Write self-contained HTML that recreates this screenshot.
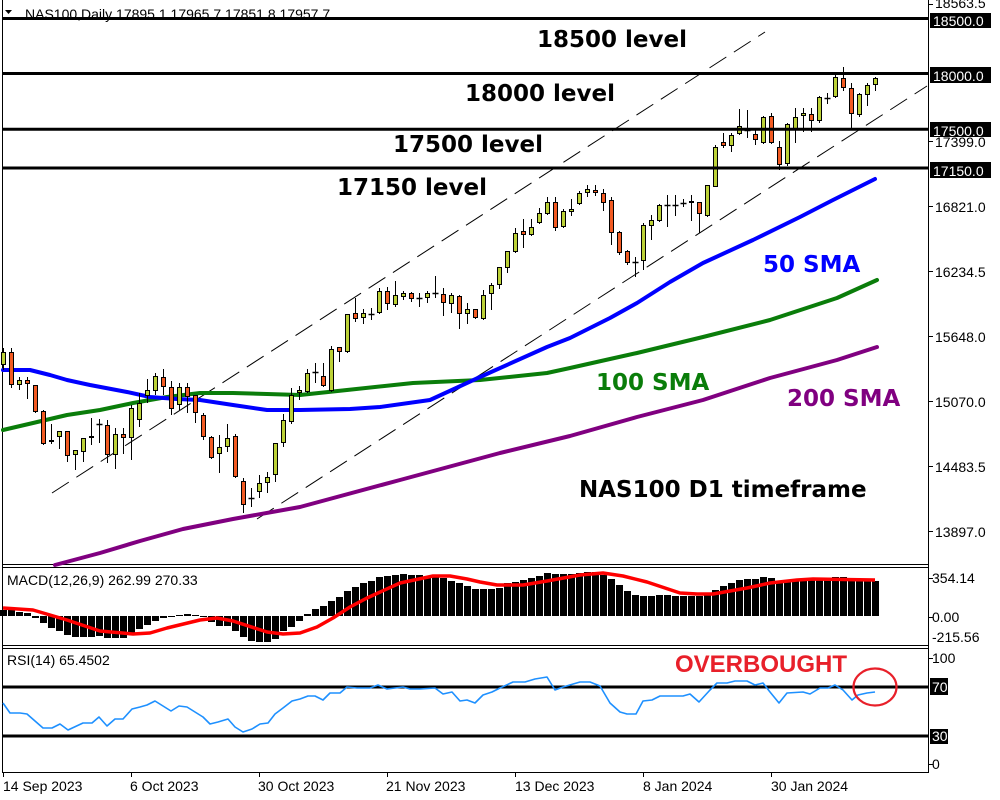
<!DOCTYPE html>
<html><head><meta charset="utf-8"><style>
html,body{margin:0;padding:0;background:#fff;width:1000px;height:800px;overflow:hidden}
svg{display:block}
.ax{font-family:"Liberation Sans",sans-serif;font-size:14px;fill:#000}
.big{font-family:"DejaVu Sans","Liberation Sans",sans-serif;font-weight:bold;font-size:23px}
</style></head><body>
<svg id="s" width="1000" height="800" viewBox="0 0 1000 800" xmlns="http://www.w3.org/2000/svg">
<rect width="1000" height="800" fill="#fff"/>
<!-- header -->
<polygon points="5,10 12,10 8.5,14" fill="#000"/>
<text class="ax" x="25" y="19">NAS100,Daily  17895.1 17965.7 17851.8 17957.7</text>
<!-- frames -->
<g stroke="#000" stroke-width="1" fill="none">
<line x1="2.5" y1="0" x2="2.5" y2="773"/>
<line x1="928.5" y1="0" x2="928.5" y2="773"/>
<line x1="2" y1="564.5" x2="929" y2="564.5"/>
<line x1="2" y1="567.5" x2="929" y2="567.5"/>
<line x1="2" y1="645.5" x2="929" y2="645.5"/>
<line x1="2" y1="648.5" x2="929" y2="648.5"/>
<line x1="2" y1="772.5" x2="929" y2="772.5"/>
</g>
<!-- dashed channel -->
<g stroke="#000" stroke-width="1" stroke-dasharray="20 9" fill="none">
<line x1="52" y1="493" x2="765" y2="32"/>
<line x1="257" y1="519" x2="927" y2="86"/>
</g>
<!-- SMAs -->
<g fill="none" stroke-width="4" stroke-linejoin="round" stroke-linecap="round">
<polyline stroke="#800080" points="55,565 100,553 140,541 183,529 233,519 300,507 400,480 500,453 570,436 637,417 703,400 770,378 837,360 877,347"/>
<polyline stroke="#0a7d0a" points="3,430 33,423 67,415 100,410 133,403 167,397 200,393 233,393 267,394 300,395 347,390 413,383 480,380 547,373 570,368 610,359 637,353 703,337 770,320 837,298 877,280"/>
<polyline stroke="#0000ff" points="3,370 30,370 50,375 67,380 90,385 127,392 150,397 177,399 200,400 233,405 267,410 300,410 350,409 380,407 430,400 480,377 547,347 570,338 610,318 637,303 670,282 703,263 753,240 800,217 833,200 875,179"/>
</g>
<g id="candles"></g>
<g id="hist"></g>
<!-- MACD signal -->
<polyline fill="none" stroke="#ff0000" stroke-width="3.5" stroke-linejoin="round" points="3,608 33,610 67,620 100,631 133,634 150,633 167,628 200,620 217,618 233,621 267,632 283,634 300,633 317,627 333,618 350,607 367,598 400,583 433,576 450,576 467,579 480,582 497,585 523,585 547,581 580,575 603,573 623,576 647,582 680,593 697,594 713,594 747,588 770,583 797,580 813,579 875,580"/>
<!-- RSI -->
<g stroke="#000" stroke-width="3">
<line x1="3" y1="687" x2="928" y2="687"/>
<line x1="3" y1="736" x2="928" y2="736"/>
</g>
<polyline fill="none" stroke="#1e90ff" stroke-width="1.6" stroke-linejoin="round" points="3,703 10,713 20,713 27,714 43,728 52,728 60,724 68,730 83,723 92,723 99,717 107,726 115,719 123,719 132,709 140,707 147,705 155,701 163,706 171,711 179,706 187,707 195,712 203,717 210,724 218,722 228,719 235,727 243,732 252,729 260,724 268,723 275,714 283,708 292,701 300,699 308,696 315,696 323,700 330,693 340,693 347,687 357,688 370,688 378,685 387,689 395,688 403,687 410,689 420,689 435,688 443,694 452,692 460,701 467,700 475,703 483,695 492,692 500,688 513,682 525,682 535,679 547,677 555,690 563,687 580,682 590,682 600,686 610,703 620,712 627,714 636,714 643,701 652,700 660,696 683,696 690,694 699,702 710,690 717,683 727,683 735,681 747,681 755,685 763,683 770,692 779,703 787,693 803,692 810,694 820,688 828,688 835,685 843,690 852,700 858,695 867,693 875,692"/>
<text x="675" y="672" font-family="Liberation Sans, sans-serif" font-weight="bold" font-size="24" fill="#e8202a">OVERBOUGHT</text>
<ellipse cx="875" cy="687" rx="21.5" ry="18.5" fill="none" stroke="#e8202a" stroke-width="2.2"/>
<text class="ax" x="7" y="585">MACD(12,26,9) 262.99 270.33</text>
<text class="ax" x="7" y="665">RSI(14) 65.4502</text>
<!-- level lines -->
<g stroke="#000" stroke-width="3">
<line x1="2" y1="18.5" x2="929" y2="18.5"/>
<line x1="2" y1="73.5" x2="929" y2="73.5"/>
<line x1="2" y1="129.3" x2="929" y2="129.3"/>
<line x1="2" y1="168" x2="929" y2="168"/>
</g>
<!-- big labels -->
<text class="big" x="537" y="47" fill="#000">18500 level</text>
<text class="big" x="465" y="101" fill="#000">18000 level</text>
<text class="big" x="393" y="152" fill="#000">17500 level</text>
<text class="big" x="337" y="195" fill="#000">17150 level</text>
<text class="big" x="763" y="272" fill="#0000ff">50 SMA</text>
<text class="big" x="596" y="390" fill="#0a7d0a">100 SMA</text>
<text class="big" x="787" y="406" fill="#800080">200 SMA</text>
<text class="big" x="579" y="497" fill="#000">NAS100 D1 timeframe</text>
<!-- right axis ticks -->
<g stroke="#000" stroke-width="1">
<line x1="928" y1="4.5" x2="933" y2="4.5"/>
<line x1="928" y1="141.5" x2="933" y2="141.5"/>
<line x1="928" y1="206.5" x2="933" y2="206.5"/>
<line x1="928" y1="271.5" x2="933" y2="271.5"/>
<line x1="928" y1="336.5" x2="933" y2="336.5"/>
<line x1="928" y1="401.5" x2="933" y2="401.5"/>
<line x1="928" y1="466.5" x2="933" y2="466.5"/>
<line x1="928" y1="531.5" x2="933" y2="531.5"/>
<line x1="928" y1="578.5" x2="933" y2="578.5"/>
<line x1="928" y1="617.5" x2="933" y2="617.5"/>
<line x1="928" y1="658.5" x2="933" y2="658.5"/>
<line x1="928" y1="764.5" x2="933" y2="764.5"/>
<line x1="3.5" y1="773" x2="3.5" y2="777"/>
<line x1="131.5" y1="773" x2="131.5" y2="777"/>
<line x1="259.5" y1="773" x2="259.5" y2="777"/>
<line x1="387.5" y1="773" x2="387.5" y2="777"/>
<line x1="515.5" y1="773" x2="515.5" y2="777"/>
<line x1="643.5" y1="773" x2="643.5" y2="777"/>
<line x1="771.5" y1="773" x2="771.5" y2="777"/>
</g>
<text class="ax" x="935" y="8">18563.5</text>
<text class="ax" x="935" y="147">17399.0</text>
<text class="ax" x="935" y="212">16821.0</text>
<text class="ax" x="935" y="277">16234.5</text>
<text class="ax" x="935" y="342">15648.0</text>
<text class="ax" x="935" y="407">15070.0</text>
<text class="ax" x="935" y="472">14483.5</text>
<text class="ax" x="935" y="537">13897.0</text>
<g fill="#000">
<rect x="930" y="13" width="61" height="15"/>
<rect x="930" y="67" width="61" height="16"/>
<rect x="930" y="122" width="61" height="15"/>
<rect x="930" y="162" width="61" height="16"/>
<rect x="930" y="678" width="18" height="17"/>
<rect x="930" y="729" width="18" height="15"/>
</g>
<g class="ax" fill="#fff">
<text class="ax" x="933" y="26" style="fill:#fff">18500.0</text>
<text class="ax" x="933" y="81" style="fill:#fff">18000.0</text>
<text class="ax" x="933" y="136" style="fill:#fff">17500.0</text>
<text class="ax" x="933" y="176" style="fill:#fff">17150.0</text>
<text class="ax" x="932" y="692" style="fill:#fff">70</text>
<text class="ax" x="932" y="741" style="fill:#fff">30</text>
</g>
<text class="ax" x="932" y="583">354.14</text>
<text class="ax" x="932" y="622">0.00</text>
<text class="ax" x="932" y="642">-215.56</text>
<text class="ax" x="932" y="663">100</text>
<text class="ax" x="932" y="769">0</text>
<!-- dates -->
<text class="ax" x="3" y="791">14 Sep 2023</text>
<text class="ax" x="130" y="791">6 Oct 2023</text>
<text class="ax" x="258" y="791">30 Oct 2023</text>
<text class="ax" x="386" y="791">21 Nov 2023</text>
<text class="ax" x="515" y="791">13 Dec 2023</text>
<text class="ax" x="643" y="791">8 Jan 2024</text>
<text class="ax" x="771" y="791">30 Jan 2024</text>
</svg>
<script>
(function(){
var NS="http://www.w3.org/2000/svg";
var C=[['g',352,365,348,370],['r',352,385,348,388],['g',380,385,377,390],['r',380,384,377,399],['r',385,412,385,413],['r',411,444,410,445],['g',440,442,424,444],['g',431,437,431,449],['r',431,456,431,462],['g',450,455,450,470],
['g',438,452,438,462],['g',436,438,418,445],['d',424,424,419,443],['r',425,455,420,463],['g',434,455,428,469],['r',434,438,428,454],['g',408,438,405,460],['g',403,420,393,427],['g',390,396,379,403],['g',376,391,373,395],
['r',377,387,369,395],['r',387,409,381,415],['g',387,405,383,410],['r',387,397,383,413],['r',395,413,395,423],['r',415,437,413,440],['r',437,458,436,459],['g',447,454,435,473],['g',438,447,424,452],['r',436,477,434,478],
['r',481,505,478,513],['d',498,498,488,507],['g',483,492,475,498],['g',477,483,472,493],['g',443,475,443,482],['g',420,443,414,447],['g',395,422,388,424],['g',390,393,386,400],['g',373,392,369,393],['d',372,372,363,383],
['r',376,386,363,387],['g',349,391,346,392],['r',347,352,347,362],['g',314,352,314,353],['r',313,319,298,322],['g',313,318,309,324],['d',314,314,308,320],['g',291,313,288,314],['r',291,304,287,310],['g',295,305,281,307],
['g',293,297,291,300],['r',293,299,292,302],['d',298,298,293,307],['g',293,298,291,303],['d',293,293,276,298],['r',294,303,288,316],['g',295,304,293,313],['r',296,314,295,329],['g',309,314,303,324],['r',309,318,309,319],
['g',295,319,290,320],['g',285,294,283,310],['g',267,285,267,289],['g',251,268,251,273],['g',233,252,228,253],['r',231,235,219,248],['g',227,235,219,236],['g',213,223,208,224],['g',202,214,197,215],['r',202,228,197,231],
['g',211,227,209,228],['g',209,212,199,216],['g',193,204,191,205],['g',189,193,185,197],['r',190,193,185,196],['r',193,203,189,211],['r',200,233,197,245],['r',232,253,231,255],['r',251,263,250,265],['d',262,262,257,277],
['g',225,261,223,270],['g',220,226,215,240],['g',205,221,204,222],['d',205,205,195,227],['d',205,205,195,216],['d',203,203,199,207],['g',201,203,195,221],['r',202,214,202,233],['g',185,216,185,217],['g',147,187,145,187],
['r',142,146,133,148],['g',135,146,133,152],['g',126,134,109,135],['d',130,130,110,138],['r',134,140,129,145],['g',117,143,116,144],['r',116,143,113,144],['r',147,165,141,170],['g',124,164,123,166],['g',117,130,108,143],
['g',113,116,108,132],['r',114,121,108,132],['g',97,121,96,123],['d',98,98,93,104],['g',77,97,75,98],['r',78,88,67,91],['r',88,114,83,130],['g',94,115,93,117],['g',85,95,83,106],['g',78,85,77,91]];
var H=[610,610,612,613,618,623,628,631,635,637,637,637,636,638,638,638,633,629,625,621,618,617,615,614,615,617,622,626,626,631,637,641,642,642,639,631,627,621,614,609,606,601,597,591,587,583,581,577,576,575,574,575,575,576,577,578,581,583,586,589,589,589,588,583,582,580,578,576,573,574,574,574,573,572,572,575,579,585,591,595,596,596,595,595,596,596,596,596,593,590,586,583,580,579,579,577,578,582,581,579,579,579,579,579,577,577,579,579,579,581];
var gc=document.getElementById('candles'),gh=document.getElementById('hist');
function el(n,a,p){var e=document.createElementNS(NS,n);for(var k in a)e.setAttribute(k,a[k]);p.appendChild(e);return e;}
for(var i=0;i<C.length;i++){
 var c=C[i],cx=3.5+8*i;
 el('line',{x1:cx,y1:c[3],x2:cx,y2:c[4],stroke:'#000','stroke-width':1},gc);
 if(c[0]=='d'){
  el('line',{x1:cx-3,y1:c[1]+0.5,x2:cx+3,y2:c[1]+0.5,stroke:'#000','stroke-width':1.5},gc);
 } else {
  var h=Math.max(c[2]-c[1],2);
  el('rect',{x:cx-2,y:c[1]+0.5,width:4,height:h-1,fill:(c[0]=='g'?'#bcd137':'#f25a22'),stroke:'#000','stroke-width':1},gc);
 }
}
for(var j=0;j<H.length;j++){
 var v=H[j],x=3.5+8*j-3.5,y0=Math.min(v,616),y1=Math.max(v,616);
 el('rect',{x:x,y:y0,width:7,height:Math.max(y1-y0,1),fill:'#000'},gh);
}
})();
</script>
</body></html>
